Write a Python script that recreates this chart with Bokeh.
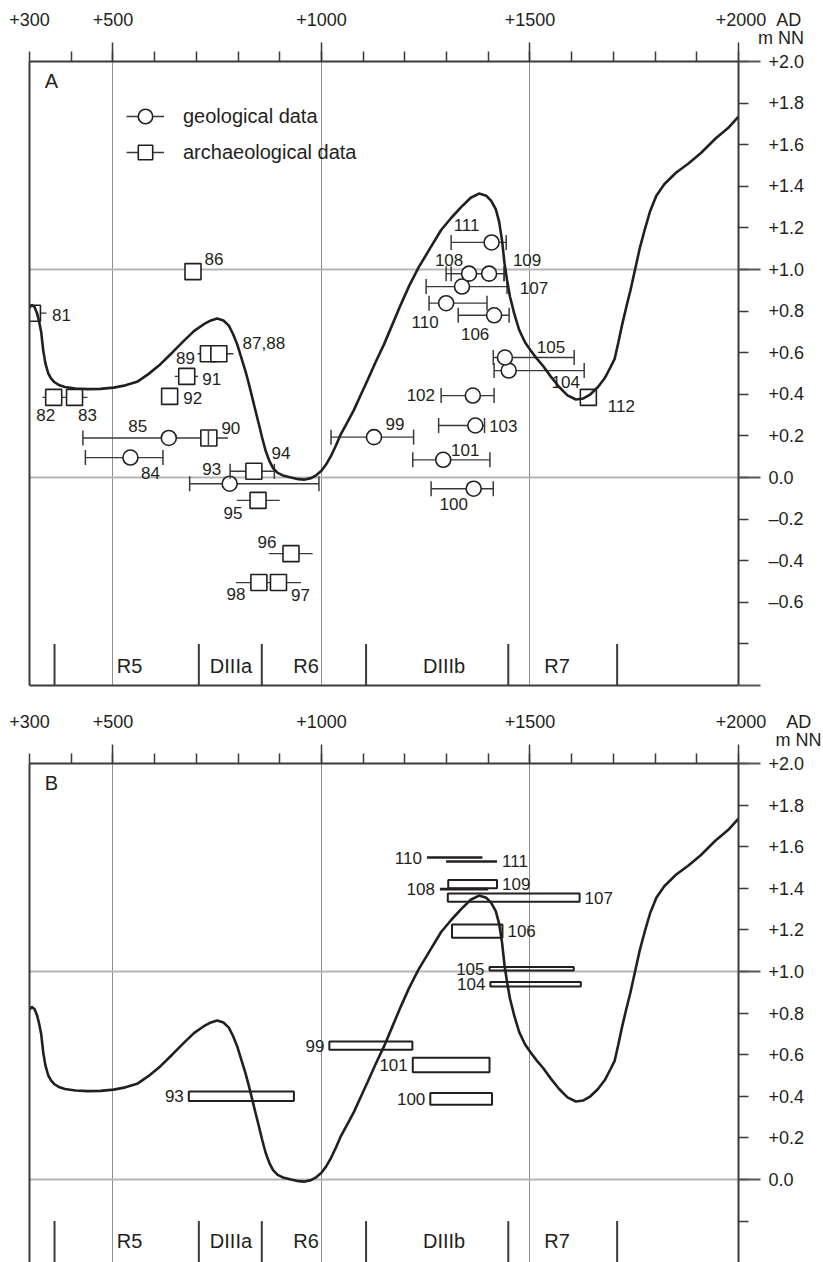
import math
from bokeh.plotting import figure
from bokeh.layouts import column
from bokeh.models import (ColumnDataSource, LinearAxis, FixedTicker, Range1d, Label,
                          Legend, LegendItem, Grid)
from bokeh.core.properties import value
from bokeh.embed import file_html
from bokeh.resources import INLINE

# ---------------- data ----------------
year_ticks = [300, 500, 1000, 1500, 2000]
year_tick_labels = ["+300", "+500", "+1000", "+1500", "+2000"]
year_unit = "AD"
level_unit = "m NN"
year_hundreds = [300, 400, 500, 600, 700, 800, 900, 1000, 1100, 1200, 1300, 1400,
                 1500, 1600, 1700, 1800, 1900, 2000]
year_grid = [500, 1000, 1500]
level_grid = [0.0, 1.0]

levels_a = [2.0, 1.8, 1.6, 1.4, 1.2, 1.0, 0.8, 0.6, 0.4, 0.2, 0.0, -0.2, -0.4, -0.6, -0.8]
level_labels_a = ["+2.0", "+1.8", "+1.6", "+1.4", "+1.2", "+1.0", "+0.8", "+0.6", "+0.4",
                  "+0.2", "0.0", "\u20130.2", "\u20130.4", "\u20130.6", ""]
levels_b = [2.0, 1.8, 1.6, 1.4, 1.2, 1.0, 0.8, 0.6, 0.4, 0.2, 0.0, -0.2]
level_labels_b = ["+2.0", "+1.8", "+1.6", "+1.4", "+1.2", "+1.0", "+0.8", "+0.6", "+0.4",
                  "+0.2", "0.0", ""]

# sea-level curve (year AD, m NN)
curve_year = [300, 305, 312, 318, 323, 328, 333, 338, 345, 352, 360, 372, 385, 410, 440, 470,
              502, 530, 558, 585, 614, 642, 670, 695, 718, 735, 750, 765, 778, 788, 798, 808,
              818, 826, 834, 842, 850, 858, 866, 875, 884, 895, 910, 927, 945, 960, 975, 988,
              1000, 1011, 1022, 1035, 1047, 1062, 1078, 1095, 1111, 1130, 1150, 1170, 1190,
              1210, 1233, 1260, 1287, 1312, 1335, 1358, 1378, 1395, 1407, 1418, 1426, 1433,
              1439, 1445, 1452, 1462, 1474, 1488, 1500, 1515, 1532, 1550, 1570, 1590, 1610,
              1628, 1645, 1663, 1680, 1693, 1703, 1712, 1721, 1731, 1741, 1752, 1763, 1775,
              1788, 1803, 1822, 1850, 1880, 1910, 1945, 1975, 2000]
curve_level = [0.815, 0.83, 0.82, 0.79, 0.75, 0.70, 0.61, 0.55, 0.50, 0.475, 0.458, 0.443,
               0.435, 0.428, 0.425, 0.426, 0.432, 0.443, 0.46, 0.497, 0.545, 0.60, 0.657,
               0.705, 0.737, 0.755, 0.764, 0.755, 0.73, 0.69, 0.64, 0.575, 0.51, 0.45, 0.385,
               0.32, 0.256, 0.19, 0.13, 0.08, 0.045, 0.022, 0.008, 0.0, -0.008, -0.01, -0.003,
               0.012, 0.032, 0.062, 0.10, 0.155, 0.21, 0.265, 0.325, 0.40, 0.47, 0.555, 0.64,
               0.735, 0.83, 0.92, 1.01, 1.10, 1.19, 1.25, 1.30, 1.345, 1.365, 1.355, 1.33,
               1.29, 1.23, 1.14, 1.03, 0.95, 0.87, 0.79, 0.71, 0.65, 0.615, 0.575, 0.535,
               0.485, 0.435, 0.395, 0.375, 0.38, 0.40, 0.435, 0.48, 0.53, 0.57, 0.65, 0.735,
               0.82, 0.90, 1.0, 1.10, 1.19, 1.28, 1.355, 1.41, 1.465, 1.51, 1.56, 1.63, 1.68,
               1.735]

# panel A: geological data (circles, dated ranges with end caps)
geo_id = ["84", "85", "93", "99", "100", "101", "102", "103", "104", "105", "106", "107",
          "108", "109", "110", "111"]
geo_year = [542, 634, 780, 1126, 1365, 1292, 1363, 1369, 1449, 1440, 1414, 1337, 1354, 1402,
            1299, 1408]
geo_level = [0.096, 0.19, -0.03, 0.194, -0.054, 0.085, 0.394, 0.25, 0.514, 0.577, 0.78,
             0.918, 0.98, 0.98, 0.838, 1.13]
geo_from = [434, 428, 684, 1023, 1263, 1219, 1287, 1281, 1414, 1412, 1328, 1251, 1311, 1299,
            1258, 1311]
geo_to = [620, 729, 994, 1221, 1412, 1404, 1414, 1391, 1630, 1606, 1450, 1445, 1438, 1438,
          1397, 1443]

# panel A: archaeological data (squares)
arc_id = ["81", "82", "83", "86", "89", "87,88", "90", "91", "92", "94", "95", "96", "98",
          "97", "112"]
arc_year = [307, 358, 408, 692, 729, 754, 730, 677, 636, 838, 848, 927, 850, 897, 1640]
arc_level = [0.79, 0.385, 0.385, 0.99, 0.595, 0.595, 0.19, 0.486, 0.39, 0.03, -0.11, -0.366,
             -0.505, -0.505, 0.385]
arc_from = [300, 331, 383, None, 703, 742, 715, 648, None, 781, 797, 874, 795, 874, None]
arc_to = [341, 383, 439, None, 742, 789, 776, 704, None, 887, 900, 979, 874, 951, None]
arc_capped = ["94"]

# panel B: dated ranges (boxes) and single lines
b_box_id = ["93", "99", "100", "101", "104", "105", "106", "107", "109"]
b_box_from = [682, 1019, 1261, 1219, 1405, 1403, 1313, 1303, 1304]
b_box_to = [934, 1218, 1409, 1403, 1622, 1605, 1434, 1619, 1421]
b_box_low = [0.377, 0.624, 0.36, 0.516, 0.928, 1.005, 1.162, 1.335, 1.40]
b_box_high = [0.423, 0.664, 0.416, 0.585, 0.95, 1.022, 1.226, 1.375, 1.44]
b_line_id = ["108", "110", "111"]
b_line_from = [1284, 1253, 1299]
b_line_to = [1400, 1386, 1421]
b_line_level = [1.396, 1.548, 1.529]

# periods
period_names = ["R5", "DIIIa", "R6", "DIIIb", "R7"]
period_label_year = [540, 783, 963, 1294, 1565]
period_bounds = [360, 706, 857, 1107, 1448, 1709]

# ---------------- layout / style (not data) ----------------
FONT = "Liberation Sans"
INK = "#231f20"
AXIS = "#3a3a3a"
GRID_V = "#8f8f8f"
GRID_H = "#b5b5b5"
NB = "\u00a0"
LONG_YEAR_TICKS = [500, 1000, 1500, 2000]

label_off_geo = {"84": (20, 15), "85": (-31, -12), "93": (-18, -15), "99": (21, -13),
                 "100": (-20, 15), "101": (22, -10), "102": (-52, -1), "103": (28, 0),
                 "104": (57, 11), "105": (46, -10), "106": (-19, 19), "107": (72, 1),
                 "108": (-20, -14), "109": (38, -14), "110": (-21, 19), "111": (-25, -17)}
label_off_arc = {"81": (29, 2), "82": (-8, 18), "83": (13, 18), "86": (21, -13),
                 "89": (-23, 4), "87,88": (45, -11), "90": (22, -10), "91": (25, 3),
                 "92": (23, 2), "94": (27, -18), "95": (-25, 13), "96": (-24, -12),
                 "98": (-23, 11), "97": (22, 12), "112": (33, 9)}
b_left_labels = ["93", "99", "100", "101", "104", "105", "108", "110"]


def axis_style(ax):
    ax.axis_line_color = AXIS
    ax.axis_line_width = 2
    ax.major_tick_line_color = AXIS
    ax.major_tick_line_width = 1.5
    ax.minor_tick_line_color = AXIS
    ax.minor_tick_line_width = 1.5
    ax.major_label_text_font = FONT
    ax.major_label_text_font_size = "18px"
    ax.major_label_text_color = INK


def top_labels(lead, gap, unit_pad):
    # two text rows: the year row, and under "AD" the unit of the level axis
    named = dict(zip(year_ticks, year_tick_labels))
    out = {}
    for t in year_hundreds:
        if t == year_ticks[-1]:
            out[t] = NB * lead + named[t] + NB * gap + year_unit + "\n" + NB * unit_pad + level_unit
        elif t in named:
            out[t] = named[t] + "\n" + NB
        else:
            out[t] = ""
    return out


def base_fig(height, y_start, top_border, bottom_border, ticks, tick_labels, letter,
             lead, gap, unit_pad):
    p = figure(width=823, height=height, x_range=Range1d(300, 2000),
               y_range=Range1d(y_start, 2.0), x_axis_location=None, y_axis_location=None,
               toolbar_location=None, output_backend="svg", min_border_left=29,
               min_border_right=85, min_border_top=top_border,
               min_border_bottom=bottom_border, outline_line_color=None)
    p.grid.visible = False
    p.background_fill_color = "white"
    p.border_fill_color = "white"
    p.add_layout(Grid(dimension=0, ticker=FixedTicker(ticks=year_grid),
                      grid_line_color=GRID_V, grid_line_width=1))
    p.add_layout(Grid(dimension=1, ticker=FixedTicker(ticks=level_grid),
                      grid_line_color=GRID_H, grid_line_width=2))

    # short ticks every century, long ticks every 500 years
    top = LinearAxis(ticker=FixedTicker(ticks=year_hundreds, minor_ticks=LONG_YEAR_TICKS),
                     major_label_overrides=top_labels(lead, gap, unit_pad))
    axis_style(top)
    top.major_tick_out = 10
    top.major_tick_in = 0
    top.minor_tick_out = 19
    top.minor_tick_in = 0
    top.major_label_standoff = -5
    top.major_label_text_line_height = 0.9
    p.add_layout(top, "above")

    # level axis; the frame edges and the 0 / +1 m lines run a little past it
    long_levels = [y_start, 0.0, 1.0, 2.0] if y_start == -1.0 else [0.0, 1.0, 2.0]
    right = LinearAxis(ticker=FixedTicker(ticks=ticks, minor_ticks=long_levels),
                       major_label_overrides=dict(zip(ticks, tick_labels)))
    axis_style(right)
    right.major_tick_out = 10
    right.major_tick_in = 0
    right.minor_tick_out = 22
    right.minor_tick_in = 0
    right.minor_tick_line_width = 2
    right.minor_tick_line_color = "#555555"
    right.major_label_standoff = 8
    p.add_layout(right, "right")

    left = LinearAxis(ticker=FixedTicker(ticks=[]))
    axis_style(left)
    left.major_tick_line_color = None
    left.minor_tick_line_color = None
    left.major_label_text_font_size = "0px"
    p.add_layout(left, "left")

    p.add_layout(Label(x=300, y=2.0, x_offset=22, y_offset=-19, text=letter,
                       text_font=FONT, text_font_size="20px", text_color=INK,
                       text_align="center", text_baseline="middle"))
    return p


def periods(p, label_y, sep_top, sep_bottom):
    p.segment(x0=period_bounds, x1=period_bounds, y0=[sep_top] * len(period_bounds),
              y1=[sep_bottom] * len(period_bounds), line_color=AXIS, line_width=2)
    p.text(x=period_label_year, y=[label_y] * len(period_label_year), text=period_names,
           text_font=value(FONT), text_font_size=value("20px"), text_color=INK,
           text_align="center", text_baseline="middle")


def curve(p):
    p.line(curve_year, curve_level, line_color=INK, line_width=2.6)


# ---------------- panel A ----------------
pA = base_fig(700, -1.0, 61, 15, levels_a, level_labels_a, "A", 8, 2, 17)
bottom = LinearAxis(ticker=FixedTicker(ticks=[]))
axis_style(bottom)
bottom.major_tick_line_color = None
bottom.minor_tick_line_color = None
bottom.major_label_text_font_size = "0px"
pA.add_layout(bottom, "below")

geo_bar = pA.segment(x0=geo_from, x1=geo_to, y0=geo_level, y1=geo_level,
                     line_color=AXIS, line_width=1.3)
arc_rows = [i for i in range(len(arc_id)) if arc_from[i] is not None]
arc_bar = pA.segment(x0=[arc_from[i] for i in arc_rows], x1=[arc_to[i] for i in arc_rows],
                     y0=[arc_level[i] for i in arc_rows], y1=[arc_level[i] for i in arc_rows],
                     line_color=AXIS, line_width=1.3)
geo_mk = pA.scatter(geo_year, geo_level, marker="circle", size=15, fill_color="white",
                    line_color=INK, line_width=1.6)
arc_mk = pA.scatter(arc_year, arc_level, marker="square", size=16, fill_color="white",
                    line_color=INK, line_width=1.6)

cap_x = geo_from + geo_to
cap_y = geo_level + geo_level
for i, k in enumerate(arc_id):
    if k in arc_capped:
        cap_x += [arc_from[i], arc_to[i]]
        cap_y += [arc_level[i], arc_level[i]]
pA.scatter(cap_x, cap_y, marker="dash", angle=math.pi / 2, size=15, line_color=AXIS,
           line_width=1.5)

curve(pA)

lab_src = ColumnDataSource(dict(
    x=geo_year + arc_year, y=geo_level + arc_level, t=geo_id + arc_id,
    dx=[label_off_geo[k][0] for k in geo_id] + [label_off_arc[k][0] for k in arc_id],
    dy=[label_off_geo[k][1] for k in geo_id] + [label_off_arc[k][1] for k in arc_id]))
pA.text(x="x", y="y", text="t", x_offset="dx", y_offset="dy", source=lab_src,
        text_font=value(FONT), text_font_size=value("17px"), text_color=INK,
        text_align="center", text_baseline="middle")

periods(pA, -0.905, -0.80, -1.0)

legend = Legend(items=[LegendItem(label=value("geological data"), renderers=[geo_bar, geo_mk]),
                       LegendItem(label=value("archaeological data"), renderers=[arc_bar, arc_mk])],
                location=(97, 515), orientation="vertical", glyph_width=38, glyph_height=36,
                label_height=36, spacing=0, padding=0, margin=0, label_standoff=19,
                border_line_color=None, background_fill_alpha=0,
                label_text_font=FONT, label_text_font_size="20px", label_text_color=INK)
pA.add_layout(legend)

# ---------------- panel B ----------------
pB = base_fig(562, -0.399, 63, 0, levels_b, level_labels_b, "B", 10, 4, 24)

pB.quad(left=b_box_from, right=b_box_to, bottom=b_box_low, top=b_box_high,
        fill_color=None, line_color=INK, line_width=2)
pB.segment(x0=b_line_from, x1=b_line_to, y0=b_line_level, y1=b_line_level,
           line_color=INK, line_width=2.6)
curve(pB)

b_ids = b_box_id + b_line_id
b_from = b_box_from + b_line_from
b_to = b_box_to + b_line_to
b_mid = [(lo + hi) / 2 for lo, hi in zip(b_box_low, b_box_high)] + b_line_level
left_rows = [i for i, k in enumerate(b_ids) if k in b_left_labels]
right_rows = [i for i, k in enumerate(b_ids) if k not in b_left_labels]
pB.text(x=[b_from[i] for i in left_rows], y=[b_mid[i] for i in left_rows],
        text=[b_ids[i] for i in left_rows], x_offset=-5,
        text_font=value(FONT), text_font_size=value("17px"), text_color=INK,
        text_align="right", text_baseline="middle")
pB.text(x=[b_to[i] for i in right_rows], y=[b_mid[i] for i in right_rows],
        text=[b_ids[i] for i in right_rows], x_offset=5,
        text_font=value(FONT), text_font_size=value("17px"), text_color=INK,
        text_align="left", text_baseline="middle")

periods(pB, -0.298, -0.2, -0.45)

layout = column(pA, pB, spacing=0)
open("out.html", "w").write(file_html(layout, INLINE))
